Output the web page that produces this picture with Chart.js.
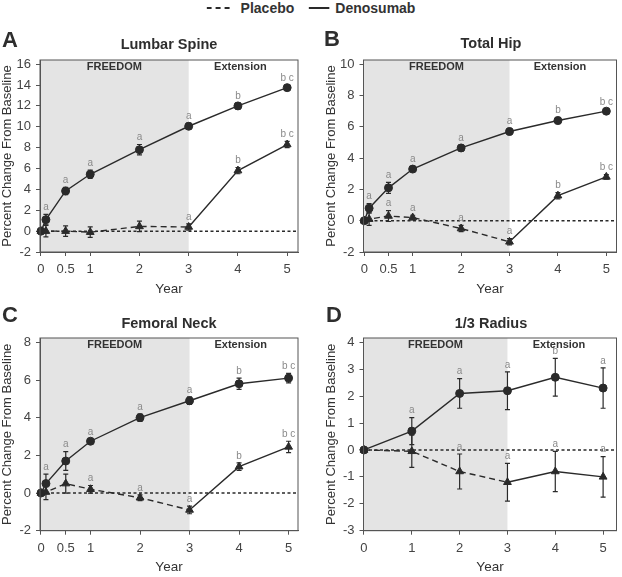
<!DOCTYPE html>
<html><head><meta charset="utf-8">
<script src="https://cdn.jsdelivr.net/npm/chart.js@4.4.1/dist/chart.umd.min.js"></script>
<style>
html,body{margin:0;padding:0;background:#fff}
body{width:622px;height:577px;position:relative;overflow:hidden;font-family:"Liberation Sans",Arial,sans-serif;color:#2e2e2e}
canvas{position:absolute}
.t{position:absolute;white-space:nowrap;font-weight:bold;line-height:1;transform:translate(-50%,-50%)}
.lt{position:absolute;white-space:nowrap;font-weight:bold;line-height:1;transform:translate(0,-50%)}
#legend{position:absolute;left:311px;top:8px;transform:translate(-50%,-50%);display:flex;align-items:center;font-weight:bold;font-size:14px;line-height:1;white-space:nowrap;color:#333}
</style></head><body>
<div id="legend">
  <svg width="26" height="4"><line x1="0" y1="2" x2="26" y2="2" stroke="#2a2a2a" stroke-width="2" stroke-dasharray="5,4"/></svg>
  <span id="lg0" style="margin-left:8px"></span>
  <svg width="21" height="4" style="margin-left:14px"><line x1="0" y1="2" x2="21" y2="2" stroke="#2a2a2a" stroke-width="2"/></svg>
  <span id="lg1" style="margin-left:6px"></span>
</div>
<script>
// ---------------- DATA ----------------
const seriesNames = ['Placebo', 'Denosumab'];
const panelLetters = ['A', 'B', 'C', 'D'];
const panelTitles = ['Lumbar Spine', 'Total Hip', 'Femoral Neck', '1/3 Radius'];
const periodLabels = ['FREEDOM', 'Extension'];
const freedomEndYear = 3;
const xAxisTitle = 'Year';
const yAxisTitle = 'Percent Change From Baseline';

const yearsHip = [0, 0.1, 0.5, 1, 2, 3, 4, 5];   // A, B, C
const yearsRadius = [0, 1, 2, 3, 4, 5];           // D
const xTicksHip = [0, 0.5, 1, 2, 3, 4, 5];
const xTicksRadius = [0, 1, 2, 3, 4, 5];

const yTicksSpine = [-2, 0, 2, 4, 6, 8, 10, 12, 14, 16];
const yTicksTotalHip = [-2, 0, 2, 4, 6, 8, 10];
const yTicksNeck = [-2, 0, 2, 4, 6, 8];
const yTicksRadius = [-3, -2, -1, 0, 1, 2, 3, 4];

// A: Lumbar spine
const spineDenosumab    = [0, 1.1, 3.85, 5.45, 7.8, 10.05, 12.0, 13.75];
const spineDenosumabErr = [0, 0.5, 0.35, 0.4, 0.5, 0.3, 0.3, 0.2];
const spineDenosumabSig = ['', 'a', 'a', 'a', 'a', 'a', 'b', 'b c'];
const spinePlacebo      = [0, 0.0, 0.0, -0.1, 0.45, 0.4, 5.8, 8.3];
const spinePlaceboErr   = [0, 0.55, 0.5, 0.5, 0.5, 0.3, 0.3, 0.3];
const spinePlaceboSig   = ['', '', '', '', '', 'a', 'b', 'b c'];

// B: Total hip
const totalHipDenosumab    = [0, 0.8, 2.1, 3.3, 4.65, 5.7, 6.4, 7.0];
const totalHipDenosumabErr = [0, 0.3, 0.35, 0.15, 0.2, 0.2, 0.2, 0.15];
const totalHipDenosumabSig = ['', 'a', 'a', 'a', 'a', 'a', 'b', 'b c'];
const totalHipPlacebo      = [0, 0.1, 0.3, 0.2, -0.5, -1.35, 1.6, 2.8];
const totalHipPlaceboErr   = [0, 0.4, 0.35, 0.15, 0.2, 0.2, 0.2, 0.15];
const totalHipPlaceboSig   = ['', '', 'a', 'a', 'a', 'a', 'b', 'b c'];

// C: Femoral neck
const neckDenosumab    = [0, 0.5, 1.7, 2.75, 4.0, 4.9, 5.8, 6.1];
const neckDenosumabErr = [0, 0.5, 0.5, 0.12, 0.2, 0.2, 0.3, 0.25];
const neckDenosumabSig = ['', 'a', 'a', 'a', 'a', 'a', 'b', 'b c'];
const neckPlacebo      = [0, 0.05, 0.5, 0.2, -0.25, -0.9, 1.4, 2.45];
const neckPlaceboErr   = [0, 0.4, 0.5, 0.2, 0.15, 0.2, 0.2, 0.3];
const neckPlaceboSig   = ['', '', '', 'a', 'a', 'a', 'b', 'b c'];

// D: 1/3 radius
const radiusDenosumab    = [0, 0.7, 2.1, 2.2, 2.7, 2.3];
const radiusDenosumabErr = [0, 0.5, 0.55, 0.7, 0.7, 0.75];
const radiusDenosumabSig = ['', 'a', 'a', 'a', 'b', 'a'];
const radiusPlacebo      = [0, -0.05, -0.8, -1.2, -0.8, -1.0];
const radiusPlaceboErr   = [0, 0.6, 0.65, 0.7, 0.75, 0.75];
const radiusPlaceboSig   = ['', '', 'a', 'a', 'a', 'a'];

// ---------------- LAYOUT (positions / styles only) ----------------
const INK = '#2a2a2a';
const AXIS = '#555';
const SHADE = '#e4e4e4';
const TICKC = '#444';
const FONT = '"Liberation Sans", Arial, sans-serif';

const layouts = [
  {left:0,   top:0,   w:311, h:300, plotL:40,    plotR:298, plotT:60,  plotB:252,   xMin:-0.02, xMax:5.22, yMax:16.4, yTitlePad:0,    xTitlePad:2.5, letter:[9,40],   title:[169,44]},
  {left:311, top:0,   w:311, h:300, plotL:363.5, plotR:619, plotT:60,  plotB:252,   xMin:-0.016,xMax:5.21, yMax:10.27,yTitlePad:12.7, xTitlePad:2.5, letter:[331,39], title:[491,43]},
  {left:0,   top:288, w:311, h:289, plotL:40,    plotR:298, plotT:338, plotB:530.7, xMin:-0.02, xMax:5.19, yMax:8.23, yTitlePad:0,    xTitlePad:1.5, letter:[9,315],  title:[169,323]},
  {left:311, top:288, w:311, h:289, plotL:363.5, plotR:621, plotT:338, plotB:530.7, xMin:-0.01, xMax:5.28, yMax:4.16, yTitlePad:12.7, xTitlePad:1.5, letter:[333,315], title:[491,323]}
];

const panels = [
  {x: yearsHip, xt: xTicksHip, yt: yTicksSpine, den: spineDenosumab, denErr: spineDenosumabErr, denSig: spineDenosumabSig, pla: spinePlacebo, plaErr: spinePlaceboErr, plaSig: spinePlaceboSig},
  {x: yearsHip, xt: xTicksHip, yt: yTicksTotalHip, den: totalHipDenosumab, denErr: totalHipDenosumabErr, denSig: totalHipDenosumabSig, pla: totalHipPlacebo, plaErr: totalHipPlaceboErr, plaSig: totalHipPlaceboSig},
  {x: yearsHip, xt: xTicksHip, yt: yTicksNeck, den: neckDenosumab, denErr: neckDenosumabErr, denSig: neckDenosumabSig, pla: neckPlacebo, plaErr: neckPlaceboErr, plaSig: neckPlaceboSig},
  {x: yearsRadius, xt: xTicksRadius, yt: yTicksRadius, den: radiusDenosumab, denErr: radiusDenosumabErr, denSig: radiusDenosumabSig, pla: radiusPlacebo, plaErr: radiusPlaceboErr, plaSig: radiusPlaceboSig}
];

document.getElementById('lg0').textContent = seriesNames[0];
document.getElementById('lg1').textContent = seriesNames[1];

function addText(cls, txt, x, y, size) {
  const d = document.createElement('div');
  d.className = cls; d.textContent = txt;
  d.style.left = x + 'px'; d.style.top = y + 'px'; d.style.fontSize = size + 'px';
  document.body.appendChild(d);
}

const panelPlugin = {
  id: 'panelDecor',
  beforeDraw(chart) {
    const {ctx, chartArea: a, scales: {x}} = chart;
    ctx.save();
    ctx.fillStyle = SHADE;
    const xe = x.getPixelForValue(freedomEndYear);
    ctx.fillRect(a.left, a.top, xe - a.left, a.bottom - a.top);
    ctx.restore();
  },
  beforeDatasetsDraw(chart) {
    const {ctx, chartArea: a, scales: {x, y}} = chart;
    ctx.save();
    const y0 = y.getPixelForValue(0);
    ctx.strokeStyle = INK; ctx.lineWidth = 1.5; ctx.setLineDash([3, 2.5]);
    ctx.beginPath(); ctx.moveTo(a.left, y0); ctx.lineTo(a.right, y0); ctx.stroke();
    ctx.setLineDash([]);
    ctx.lineWidth = 1.2; ctx.strokeStyle = INK;
    chart.data.datasets.forEach(ds => {
      ds.data.forEach((p, j) => {
        const e = ds.err[j];
        if (!e) return;
        const px = x.getPixelForValue(p.x);
        const yt = y.getPixelForValue(p.y + e), yb = y.getPixelForValue(p.y - e);
        ctx.beginPath();
        ctx.moveTo(px, yt); ctx.lineTo(px, yb);
        ctx.moveTo(px - 2.5, yt); ctx.lineTo(px + 2.5, yt);
        ctx.moveTo(px - 2.5, yb); ctx.lineTo(px + 2.5, yb);
        ctx.stroke();
      });
    });
    ctx.restore();
  },
  afterDatasetsDraw(chart) {
    const {ctx, scales: {x, y}} = chart;
    ctx.save();
    ctx.fillStyle = '#8a8a8a';
    ctx.font = '10px ' + FONT;
    ctx.textAlign = 'center'; ctx.textBaseline = 'bottom';
    chart.data.datasets.forEach(ds => {
      ds.data.forEach((p, j) => {
        const s = ds.sig[j];
        if (!s) return;
        const px = x.getPixelForValue(p.x);
        const py = y.getPixelForValue(p.y + (ds.err[j] || 0)) - 2;
        ctx.fillText(s, px, py);
      });
    });
    ctx.restore();
  },
  afterDraw(chart) {
    const {ctx, chartArea: a, scales: {x}} = chart;
    ctx.save();
    ctx.strokeStyle = AXIS; ctx.lineWidth = 1;
    ctx.strokeRect(a.left, a.top, a.right - a.left, a.bottom - a.top);
    ctx.fillStyle = '#333';
    ctx.font = 'bold 11px ' + FONT;
    ctx.textAlign = 'center'; ctx.textBaseline = 'middle';
    const xe = x.getPixelForValue(freedomEndYear);
    ctx.fillText(periodLabels[0], (a.left + xe) / 2, a.top + 6.5);
    ctx.fillText(periodLabels[1], (xe + a.right) / 2 - 3, a.top + 6.5);
    ctx.restore();
  }
};

panels.forEach((p, i) => {
  const L = layouts[i];
  const cv = document.createElement('canvas');
  cv.width = L.w; cv.height = L.h;
  cv.style.left = L.left + 'px'; cv.style.top = L.top + 'px';
  cv.style.width = L.w + 'px'; cv.style.height = L.h + 'px';
  document.body.appendChild(cv);

  addText('lt', panelLetters[i], L.letter[0] - 7, L.letter[1], 22);
  addText('t', panelTitles[i], L.title[0], L.title[1], 14.5);

  const yW = L.plotL - L.left;
  const xH = L.top + L.h - L.plotB;
  const yMin = p.yt[0];

  new Chart(cv, {
    type: 'line',
    data: {
      datasets: [
        {
          label: seriesNames[0],
          data: p.x.map((v, j) => ({x: v, y: p.pla[j]})),
          err: p.plaErr, sig: p.plaSig,
          borderColor: INK, backgroundColor: INK, borderWidth: 1.4,
          pointStyle: 'triangle', pointRadius: 4.5, pointBorderWidth: 1,
          pointBackgroundColor: INK, pointBorderColor: INK,
          segment: {borderDash: c => c.p0.parsed.x < freedomEndYear ? [6, 4] : undefined},
          tension: 0, clip: false
        },
        {
          label: seriesNames[1],
          data: p.x.map((v, j) => ({x: v, y: p.den[j]})),
          err: p.denErr, sig: p.denSig,
          borderColor: INK, backgroundColor: INK, borderWidth: 1.4,
          pointStyle: 'circle', pointRadius: 4, pointBorderWidth: 1,
          pointBackgroundColor: INK, pointBorderColor: INK,
          tension: 0, clip: false
        }
      ]
    },
    options: {
      responsive: false, animation: false, devicePixelRatio: 1,
      layout: {padding: {left: 0, top: L.plotT - L.top, right: L.left + L.w - L.plotR, bottom: 0}},
      plugins: {legend: {display: false}, tooltip: {enabled: false}, title: {display: false}},
      scales: {
        x: {
          type: 'linear', position: 'bottom', min: L.xMin, max: L.xMax,
          afterBuildTicks: s => { s.ticks = p.xt.map(v => ({value: v})); },
          afterFit: s => { s.height = xH; },
          grid: {display: true, drawOnChartArea: false, drawTicks: true, tickLength: 4, color: AXIS},
          border: {display: true, color: AXIS},
          ticks: {autoSkip: false, maxRotation: 0, color: TICKC, font: {size: 13, family: FONT}, padding: 6,
                  callback: v => String(v)},
          title: {display: true, text: xAxisTitle, color: '#333', font: {size: 13.5, family: FONT}, padding: {top: 0, bottom: L.xTitlePad}}
        },
        y: {
          type: 'linear', position: 'left', min: yMin, max: L.yMax,
          afterBuildTicks: s => { s.ticks = p.yt.map(v => ({value: v})); },
          afterFit: s => { s.width = yW; },
          grid: {display: true, drawOnChartArea: false, drawTicks: true, tickLength: 4, color: AXIS},
          border: {display: true, color: AXIS},
          ticks: {color: TICKC, font: {size: 13, family: FONT}, padding: 5, callback: v => String(v)},
          title: {display: true, text: yAxisTitle, color: '#333', font: {size: 13, family: FONT}, padding: {top: L.yTitlePad, bottom: 0}}
        }
      }
    },
    plugins: [panelPlugin]
  });
});
</script>
</body></html>
